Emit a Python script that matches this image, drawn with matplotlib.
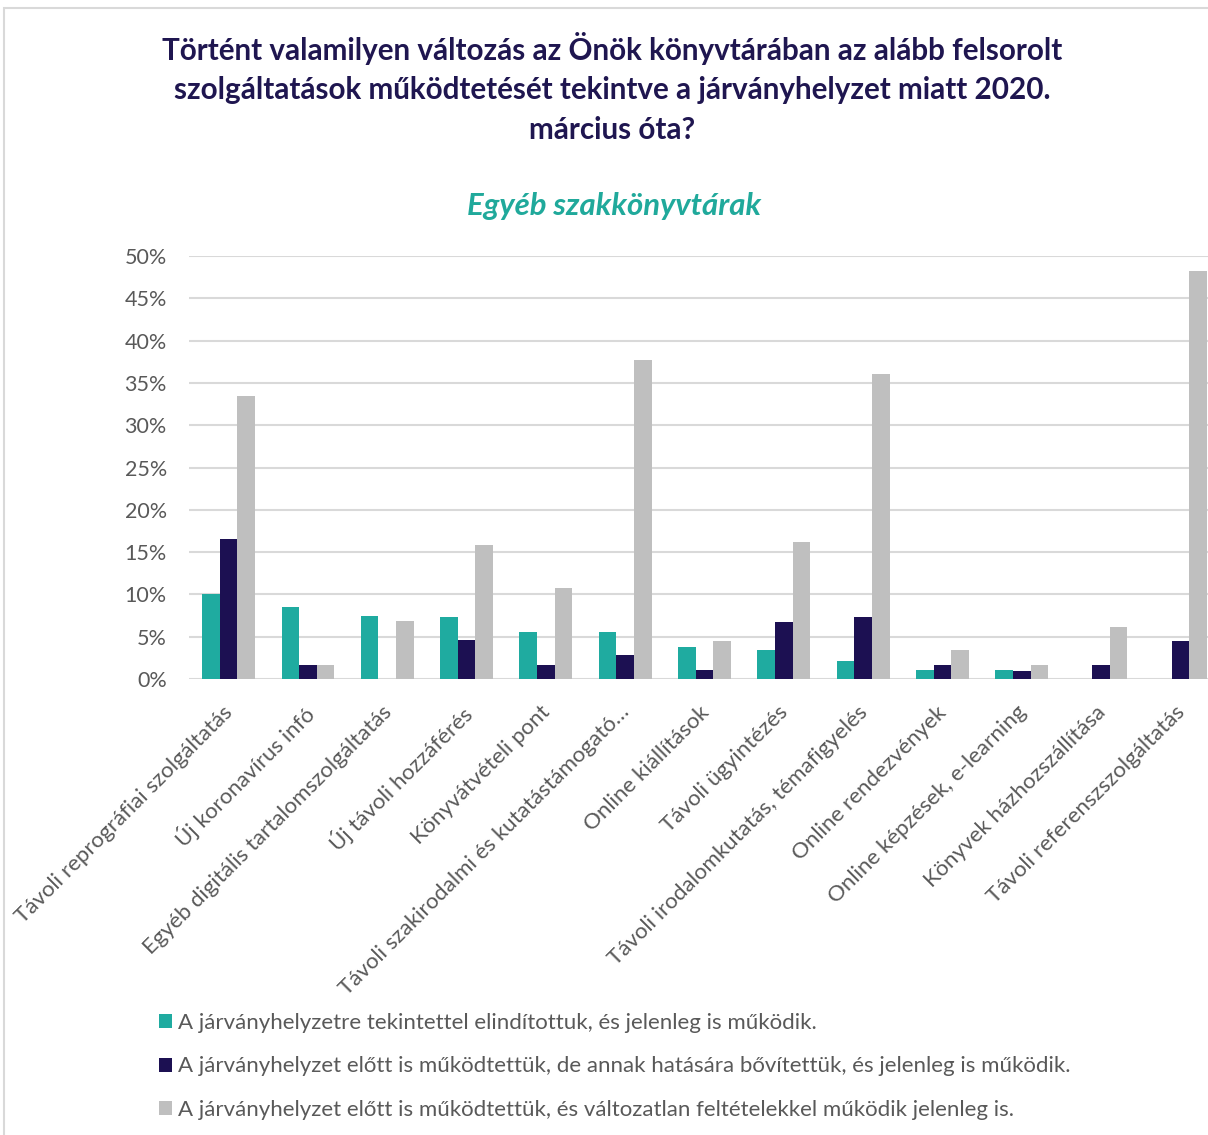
import numpy as np
import matplotlib
matplotlib.use("Agg")
import matplotlib.pyplot as plt
import matplotlib.transforms as mtransforms
from matplotlib.patches import Rectangle

plt.rcParams['font.family'] = ['Lato', 'DejaVu Sans']

# adatok (%)
categories = [
    "Távoli reprográfiai szolgáltatás",
    "Új koronavírus infó",
    "Egyéb digitális tartalomszolgáltatás",
    "Új távoli hozzáférés",
    "Könyvátvételi pont",
    "Távoli szakirodalmi és kutatástámogató…",
    "Online kiállítások",
    "Távoli ügyintézés",
    "Távoli irodalomkutatás, témafigyelés",
    "Online rendezvények",
    "Online képzések, e-learning",
    "Könyvek házhozszállítása",
    "Távoli referenszszolgáltatás",
]
uj = [10.0, 8.5, 7.4, 7.3, 5.5, 5.5, 3.8, 3.4, 2.1, 1.1, 1.1, 0.0, 0.0]
bovitett = [16.5, 1.7, 0.0, 4.6, 1.7, 2.8, 1.1, 6.7, 7.3, 1.7, 1.0, 1.7, 4.5]
valtozatlan = [33.5, 1.7, 6.9, 15.8, 10.7, 37.7, 4.5, 16.2, 36.1, 3.4, 1.7, 6.2, 48.2]

series_labels = [
    "A járványhelyzetre tekintettel elindítottuk, és jelenleg is működik.",
    "A járványhelyzet előtt is működtettük, de annak hatására bővítettük, és jelenleg is működik.",
    "A járványhelyzet előtt is működtettük, és változatlan feltételekkel működik jelenleg is.",
]
colors = ["#1faba0", "#1c1052", "#bfbfbf"]

W, H = 1208, 1135
fig = plt.figure(figsize=(W / 100, H / 100), dpi=100)

# keret
fig.patches.append(Rectangle((4 / W, -0.01), 1.05, 1 - 8 / H + 0.01, transform=fig.transFigure,
                             fill=False, edgecolor="#d9d9d9", linewidth=1.5))

ax = fig.add_axes([189 / W, 1 - 679 / H, 1031 / W, 423 / H])

x = np.arange(len(categories))
w = 0.222
for i, (vals, c, lab) in enumerate(zip([uj, bovitett, valtozatlan], colors, series_labels)):
    ax.bar(x + (i - 1) * w, np.array(vals) / 100, width=w, color=c, label=lab, zorder=3)

ax.set_xlim(-0.5, len(categories) - 0.5)
ax.set_ylim(0, 0.5)
ax.set_yticks(np.arange(0, 0.501, 0.05))
ax.set_yticklabels([f"{int(round(v * 100))}%" for v in np.arange(0, 0.501, 0.05)])
ax.grid(axis="y", color="#d9d9d9", linewidth=1.5, zorder=0)
ax.set_axisbelow(True)
for s in ax.spines.values():
    s.set_visible(False)
ax.tick_params(axis="y", length=0, colors="#595959", labelsize=15.5, pad=16)
ax.tick_params(axis="x", length=0, colors="#595959", labelsize=16, pad=8)
ax.set_xticks(x)
ax.set_xticklabels(categories, rotation=45, ha="right", rotation_mode="anchor")
# kategóriafeliratok kicsit lejjebb és balra
shift = mtransforms.ScaledTranslation(-0.06, -0.12, fig.dpi_scale_trans)
for t in ax.get_xticklabels():
    t.set_transform(t.get_transform() + shift)

fig.text(612 / W, 1 - 88 / H,
         "Történt valamilyen változás az Önök könyvtárában az alább felsorolt\n"
         "szolgáltatások működtetését tekintve a járványhelyzet miatt 2020.\n"
         "március óta?",
         ha="center", va="center", fontsize=21.3, fontweight="bold", color="#1f1650",
         linespacing=1.5)
fig.text(614 / W, 1 - 206 / H, "Egyéb szakkönyvtárak", ha="center", va="center",
         fontsize=22.4, fontweight="bold", fontstyle="italic", color="#20a99b")

fig.legend(loc="upper left", bbox_to_anchor=(148 / W, 1 - 1002 / H), frameon=False,
           fontsize=16, handlelength=0.6, handleheight=0.6, handletextpad=0.25,
           labelspacing=1.05, borderpad=0, labelcolor="#595959")

fig.savefig("out.png", dpi=100)
